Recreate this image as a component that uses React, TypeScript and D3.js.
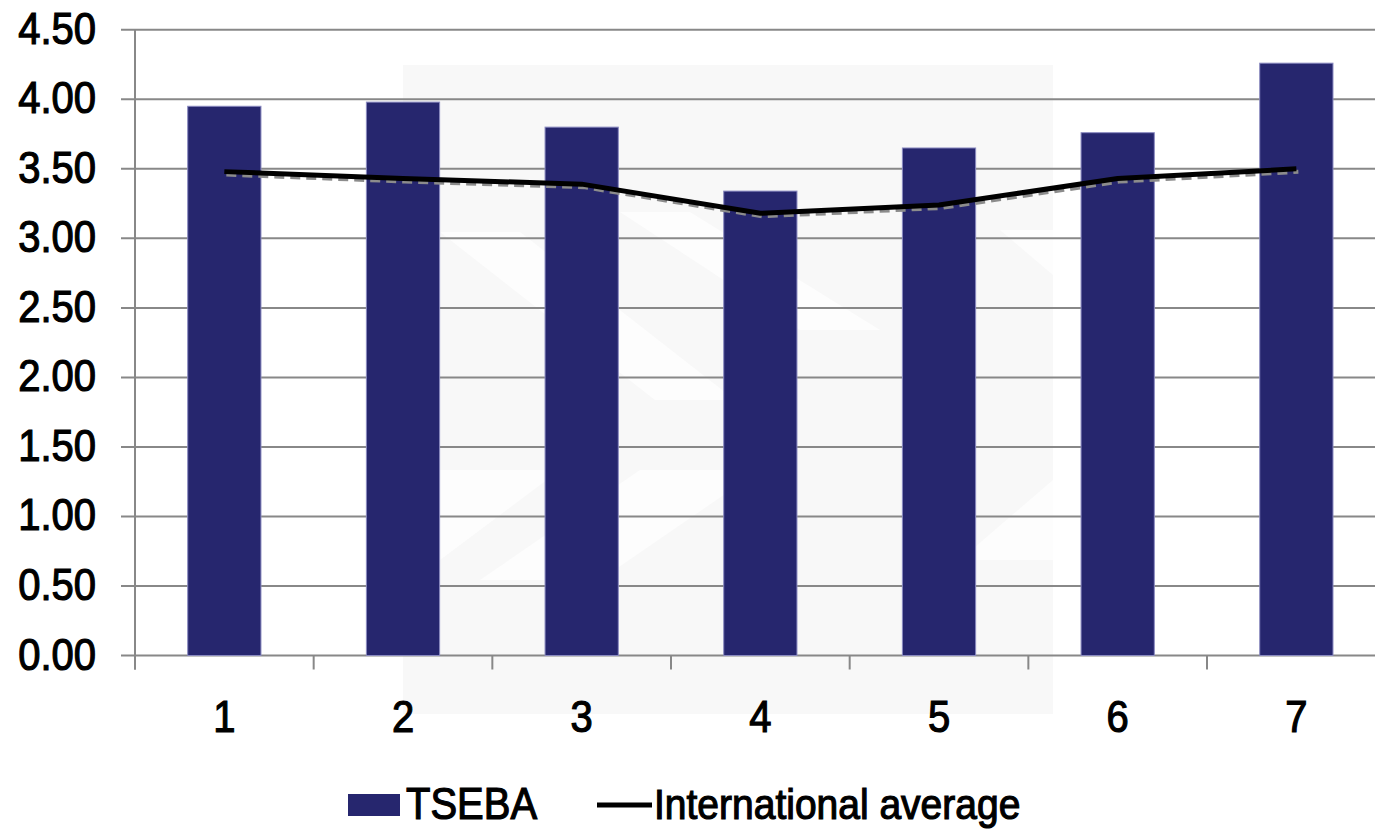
import React from "react";
import * as d3 from "d3";

const categories = ["1", "2", "3", "4", "5", "6", "7"];
const tsebaValues = [3.95, 3.98, 3.8, 3.34, 3.65, 3.76, 4.26];
const intlAverage = [3.48, 3.43, 3.39, 3.18, 3.24, 3.43, 3.5];
const yTicks = [0, 0.5, 1, 1.5, 2, 2.5, 3, 3.5, 4, 4.5];
const legendLabels = ["TSEBA", "International average"];

const W = 1375;
const H = 830;
const axisLeft = 135;
const step = 178.67;
const yBottom = 655.5;
const yTop = 29.8;

const BAR = "#26266e";
const GRID = "#888888";
const FONT = "'Liberation Sans', Arial, sans-serif";

export default function App() {
  const x = d3
    .scaleBand<string>()
    .domain(categories)
    .range([axisLeft, axisLeft + step * categories.length])
    .paddingInner(0.59)
    .paddingOuter(0.295);
  const y = d3.scaleLinear().domain([0, 4.5]).range([yBottom, yTop]);
  const cx = (c: string) => (x(c) as number) + x.bandwidth() / 2;

  const line = d3
    .line<number>()
    .x((_, i) => cx(categories[i]))
    .y((d) => y(d));
  const path = line(intlAverage) || "";

  const xTickPos = d3.range(categories.length + 1).map((i) => axisLeft + i * step);

  const textProps = { fill: "#000", stroke: "#000", strokeWidth: 1.1 };

  return (
    <svg
      width={W}
      height={H}
      style={{ position: "absolute", left: 0, top: 0, background: "#fff" }}
      fontFamily={FONT}
    >
      {/* faint background emblem */}
      <g>
        <rect x={403} y={65} width={650} height={649} fill="#f8f8f8" />
        <polygon points="440,232 520,232 735,400 655,400" fill="#fdfdfd" />
        <polygon points="620,212 690,212 880,330 800,330" fill="#fdfdfd" />
        <polygon points="1000,230 1053,230 1053,275" fill="#fdfdfd" />
        <polygon points="440,470 560,470 440,560" fill="#fdfdfd" />
        <polygon points="640,470 760,470 600,580 480,580" fill="#fdfdfd" />
        <polygon points="1053,480 1053,560 960,560" fill="#fdfdfd" />
      </g>

      {/* gridlines with outward ticks */}
      {yTicks.map((t) => (
        <line
          key={t}
          x1={axisLeft - 14}
          x2={W}
          y1={y(t)}
          y2={y(t)}
          stroke={GRID}
          strokeWidth={2}
        />
      ))}
      <line x1={axisLeft} x2={axisLeft} y1={yTop} y2={yBottom + 14} stroke={GRID} strokeWidth={2} />
      {xTickPos.map((p, i) => (
        <line key={i} x1={p} x2={p} y1={yBottom} y2={yBottom + 14} stroke={GRID} strokeWidth={2} />
      ))}

      {/* bars */}
      {tsebaValues.map((v, i) => (
        <rect
          key={i}
          x={x(categories[i])}
          y={y(v)}
          width={x.bandwidth()}
          height={yBottom - y(v)}
          fill={BAR}
          stroke="#8a8ac0"
          strokeWidth={1}
        />
      ))}

      {/* international average line with shadow */}
      <path
        d={path}
        fill="none"
        stroke="#8c8c8c"
        strokeWidth={4}
        strokeDasharray="10 6"
        transform="translate(2,3)"
      />
      <path d={path} fill="none" stroke="#000" strokeWidth={5} strokeLinejoin="round" />

      {/* y tick labels */}
      {yTicks.map((t) => (
        <text
          key={t}
          transform={`translate(96,${y(t) + 14}) scale(1,1.1)`}
          textAnchor="end"
          fontSize={40}
          {...textProps}
        >
          {t.toFixed(2)}
        </text>
      ))}

      {/* x tick labels */}
      {categories.map((c) => (
        <text
          key={c}
          transform={`translate(${cx(c)},732) scale(1,1.1)`}
          textAnchor="middle"
          fontSize={40}
          {...textProps}
        >
          {c}
        </text>
      ))}

      {/* legend */}
      <rect x={348} y={794} width={52} height={22} fill={BAR} />
      <text transform="translate(406,819) scale(1,1.1)" fontSize={40} {...textProps}>
        {legendLabels[0]}
      </text>
      <line x1={597} x2={652} y1={805} y2={805} stroke="#000" strokeWidth={5} />
      <text transform="translate(654,819) scale(1,1.1)" fontSize={39} {...textProps}>
        {legendLabels[1]}
      </text>
    </svg>
  );
}
